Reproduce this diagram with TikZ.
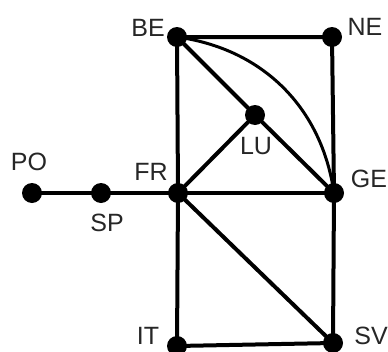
\documentclass[tikz,border=0pt]{standalone}
\usepackage{fontspec}
\setmainfont{Liberation Sans}
\begin{document}
\begin{tikzpicture}[x=1pt,y=1pt,
  dot/.style={circle,fill=black,inner sep=0pt,minimum size=20pt},
  lbl/.style={font=\fontsize{25}{25}\selectfont,inner sep=0pt,text=black!85},
  edge/.style={line width=4pt,black}]
\useasboundingbox[fill=white] (0,0) rectangle (388,-351);
\node[dot] (PO) at (32,-193) {};
\node[dot] (SP) at (101,-193) {};
\node[dot] (FR) at (178,-193) {};
\node[dot] (BE) at (177,-37) {};
\node[dot] (NE) at (332,-37) {};
\node[dot] (LU) at (255,-115) {};
\node[dot] (GE) at (334,-193) {};
\node[dot] (IT) at (177,-346) {};
\node[dot] (SV) at (333,-343) {};
\draw[edge] (PO.center) -- (SP.center) -- (FR.center) -- (GE.center);
\draw[edge] (BE.center) -- (NE.center) -- (GE.center) -- (SV.center) -- (IT.center) -- (FR.center) -- (BE.center);
\draw[edge] (BE.center) -- (LU.center) -- (GE.center);
\draw[edge] (FR.center) -- (LU.center);
\draw[edge] (FR.center) -- (SV.center);
\draw[line width=3pt] (BE.center) to[bend left=37] (GE.center);
\node[lbl] (tPO) at (29,-162) {PO};
\node[lbl] (tSP) at (107,-223) {SP};
\node[lbl] (tFR) at (151,-172) {FR};
\node[lbl] (tBE) at (148,-28) {BE};
\node[lbl] (tNE) at (365,-27) {NE};
\node[lbl] (tLU) at (256,-146) {LU};
\node[lbl] (tGE) at (369,-179) {GE};
\node[lbl] (tIT) at (148,-336) {IT};
\node[lbl] (tSV) at (371,-336) {SV};
\end{tikzpicture}
\end{document}
